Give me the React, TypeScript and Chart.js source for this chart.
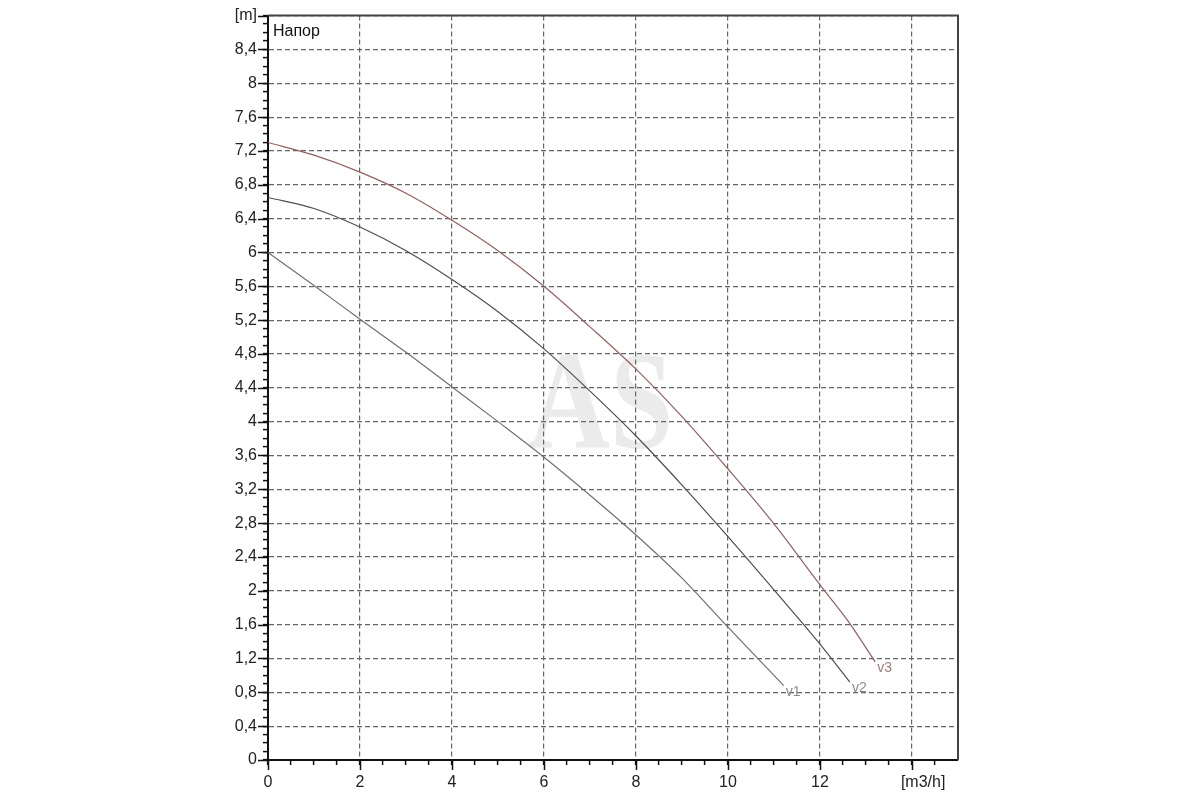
import React, { useEffect, useRef } from 'react';
import { Chart, registerables } from 'chart.js';

Chart.register(...registerables);

// ---- data ----
const curveNames = ['v1', 'v2', 'v3'];

const flowV1 = [0, 1, 2, 3, 4, 5, 6, 7, 8, 9, 10, 11, 11.21];
const headV1 = [6.0, 5.61, 5.21, 4.82, 4.41, 4.0, 3.58, 3.13, 2.66, 2.15, 1.57, 1.0, 0.88];

const flowV2 = [0, 1, 2, 3, 4, 5, 6, 7, 8, 9, 10, 11, 12, 12.65];
const headV2 = [6.65, 6.52, 6.3, 6.02, 5.68, 5.3, 4.86, 4.36, 3.83, 3.25, 2.64, 2.01, 1.37, 0.92];

const flowV3 = [0, 1, 2, 3, 4, 5, 6, 7, 8, 9, 10, 11, 12, 12.6, 13.2];
const headV3 = [7.3, 7.15, 6.95, 6.7, 6.38, 6.02, 5.6, 5.12, 4.62, 4.06, 3.44, 2.79, 2.07, 1.65, 1.16];

const xMajorTicks = [0, 2, 4, 6, 8, 10, 12, 14];
const xTickLabels = ['0', '2', '4', '6', '8', '10', '12', '     [m3/h]'];
const xMinorStep = 0.5;
const xMax = 15;

const yMajorTicks = [0, 0.4, 0.8, 1.2, 1.6, 2, 2.4, 2.8, 3.2, 3.6, 4, 4.4, 4.8, 5.2, 5.6, 6, 6.4, 6.8, 7.2, 7.6, 8, 8.4, 8.8];
const yTickLabels = ['0', '0,4', '0,8', '1,2', '1,6', '2', '2,4', '2,8', '3,2', '3,6', '4', '4,4', '4,8', '5,2', '5,6', '6', '6,4', '6,8', '7,2', '7,6', '8', '8,4', '[m]'];
const yMinorStep = 0.1;
const yMax = 8.8;

const chartLabel = 'Напор';
const watermarkText = 'AS';

const lineColors = ['#707070', '#4e4e4e', '#935f5f'];
const labelColors = ['#8c8c8c', '#8c8c8c', '#a27a7a'];

const near = (a: number, b: number) => Math.abs(a - b) < 1e-6;
const majorIndex = (arr: number[], v: number) => arr.findIndex((m) => near(m, v));

const buildSteps = (step: number, max: number, inclusive: boolean) => {
  const out: number[] = [];
  const n = Math.round(max / step);
  for (let i = 0; i <= n; i++) {
    if (!inclusive && i === n) break;
    out.push(Math.round(i * step * 1000) / 1000);
  }
  return out;
};

const FONT = '"Liberation Sans", Arial, sans-serif';

export default function App() {
  const ref = useRef<HTMLCanvasElement>(null);

  useEffect(() => {
    const canvas = ref.current;
    if (!canvas) return;

    const xTicks = buildSteps(xMinorStep, xMax, false);
    const yTicks = buildSteps(yMinorStep, yMax, true);

    const decor = {
      id: 'decor',
      beforeDraw(chart: any) {
        const { ctx, chartArea: a } = chart;
        ctx.save();
        ctx.font = 'bold 140px "Liberation Serif", serif';
        const w = ctx.measureText(watermarkText).width;
        ctx.translate(a.left + 260, a.top + 432);
        ctx.scale(145 / w, 1);
        ctx.fillStyle = '#ebebeb';
        ctx.textBaseline = 'alphabetic';
        ctx.textAlign = 'left';
        ctx.fillText(watermarkText, 0, 0);
        ctx.restore();
      },
      afterDatasetsDraw(chart: any) {
        const { ctx } = chart;
        ctx.save();
        ctx.font = `14px ${FONT}`;
        ctx.textBaseline = 'alphabetic';
        ctx.textAlign = 'left';
        chart.data.datasets.forEach((_: any, i: number) => {
          const meta = chart.getDatasetMeta(i);
          const pt = meta.data[meta.data.length - 1];
          if (!pt) return;
          ctx.fillStyle = labelColors[i];
          ctx.fillText(curveNames[i], pt.x + 2, pt.y + 10);
        });
        ctx.restore();
      },
      afterDraw(chart: any) {
        const { ctx, chartArea: a } = chart;
        const xs = chart.scales.x;
        const ys = chart.scales.y;
        ctx.save();
        // frame top & right
        ctx.strokeStyle = '#444';
        ctx.lineWidth = 2;
        ctx.beginPath();
        ctx.moveTo(a.left, a.top);
        ctx.lineTo(a.right, a.top);
        ctx.lineTo(a.right, a.bottom);
        ctx.stroke();
        // longer major ticks
        ctx.strokeStyle = '#111';
        ctx.lineWidth = 1.5;
        ctx.beginPath();
        xMajorTicks.forEach((v) => {
          const px = Math.round(xs.getPixelForValue(v)) + 0.5;
          ctx.moveTo(px, a.bottom);
          ctx.lineTo(px, a.bottom + 10);
        });
        yMajorTicks.forEach((v) => {
          const py = Math.round(ys.getPixelForValue(v)) + 0.5;
          ctx.moveTo(a.left - 10, py);
          ctx.lineTo(a.left, py);
        });
        ctx.stroke();
        // label
        ctx.fillStyle = '#111';
        ctx.font = `16px ${FONT}`;
        ctx.textBaseline = 'alphabetic';
        ctx.textAlign = 'left';
        ctx.fillText(chartLabel, a.left + 5, a.top + 20);
        ctx.restore();
      },
    };

    const mk = (xs: number[], ys: number[]) => xs.map((x, i) => ({ x, y: ys[i] }));

    const chart = new Chart(canvas, {
      type: 'line',
      data: {
        datasets: [
          { label: curveNames[0], data: mk(flowV1, headV1) },
          { label: curveNames[1], data: mk(flowV2, headV2) },
          { label: curveNames[2], data: mk(flowV3, headV3) },
        ].map((d, i) => ({
          ...d,
          borderColor: lineColors[i],
          backgroundColor: lineColors[i],
          borderWidth: 1.2,
          pointRadius: 0,
          fill: false,
          tension: 0.4,
          cubicInterpolationMode: 'monotone' as const,
        })),
      },
      options: {
        animation: false,
        responsive: true,
        maintainAspectRatio: false,
        layout: { padding: { left: 0, right: 242, top: 13, bottom: 0 } },
        plugins: {
          legend: { display: false },
          tooltip: { enabled: false },
        },
        scales: {
          x: {
            type: 'linear',
            min: 0,
            max: xMax,
            afterBuildTicks: (scale: any) => {
              scale.ticks = xTicks.map((v) => ({ value: v }));
            },
            afterFit: (scale: any) => {
              scale.height = 40;
            },
            ticks: {
              autoSkip: false,
              maxRotation: 0,
              padding: 8,
              color: '#222',
              font: { family: FONT, size: 16 },
              callback: (value: any) => {
                const idx = majorIndex(xMajorTicks, Number(value));
                return idx >= 0 ? xTickLabels[idx] : '';
              },
            },
            grid: {
              drawTicks: true,
              tickLength: 5,
              tickColor: '#111',
              tickWidth: 1.5,
              lineWidth: 1.2,
              color: (ctx: any) =>
                ctx.tick && majorIndex(xMajorTicks, ctx.tick.value) >= 0 ? '#666' : 'rgba(0,0,0,0)',
            },
            border: { display: true, color: '#111', width: 2, dash: [5, 3] },
          },
          y: {
            type: 'linear',
            min: 0,
            max: yMax,
            afterBuildTicks: (scale: any) => {
              scale.ticks = yTicks.map((v) => ({ value: v }));
            },
            afterFit: (scale: any) => {
              scale.width = 268;
            },
            ticks: {
              autoSkip: false,
              padding: 6,
              color: '#222',
              font: { family: FONT, size: 16 },
              callback: (value: any) => {
                const idx = majorIndex(yMajorTicks, Number(value));
                return idx >= 0 ? yTickLabels[idx] : '';
              },
            },
            grid: {
              drawTicks: true,
              tickLength: 5,
              tickColor: '#111',
              tickWidth: 1.5,
              lineWidth: 1.2,
              color: (ctx: any) =>
                ctx.tick && majorIndex(yMajorTicks, ctx.tick.value) >= 0 ? '#666' : 'rgba(0,0,0,0)',
            },
            border: { display: true, color: '#111', width: 2, dash: [5, 3] },
          },
        },
      } as any,
      plugins: [decor],
    });

    return () => chart.destroy();
  }, []);

  return (
    <div style={{ position: 'absolute', left: 0, top: 0, width: 1200, height: 800, background: '#fff' }}>
      <canvas ref={ref} />
    </div>
  );
}
